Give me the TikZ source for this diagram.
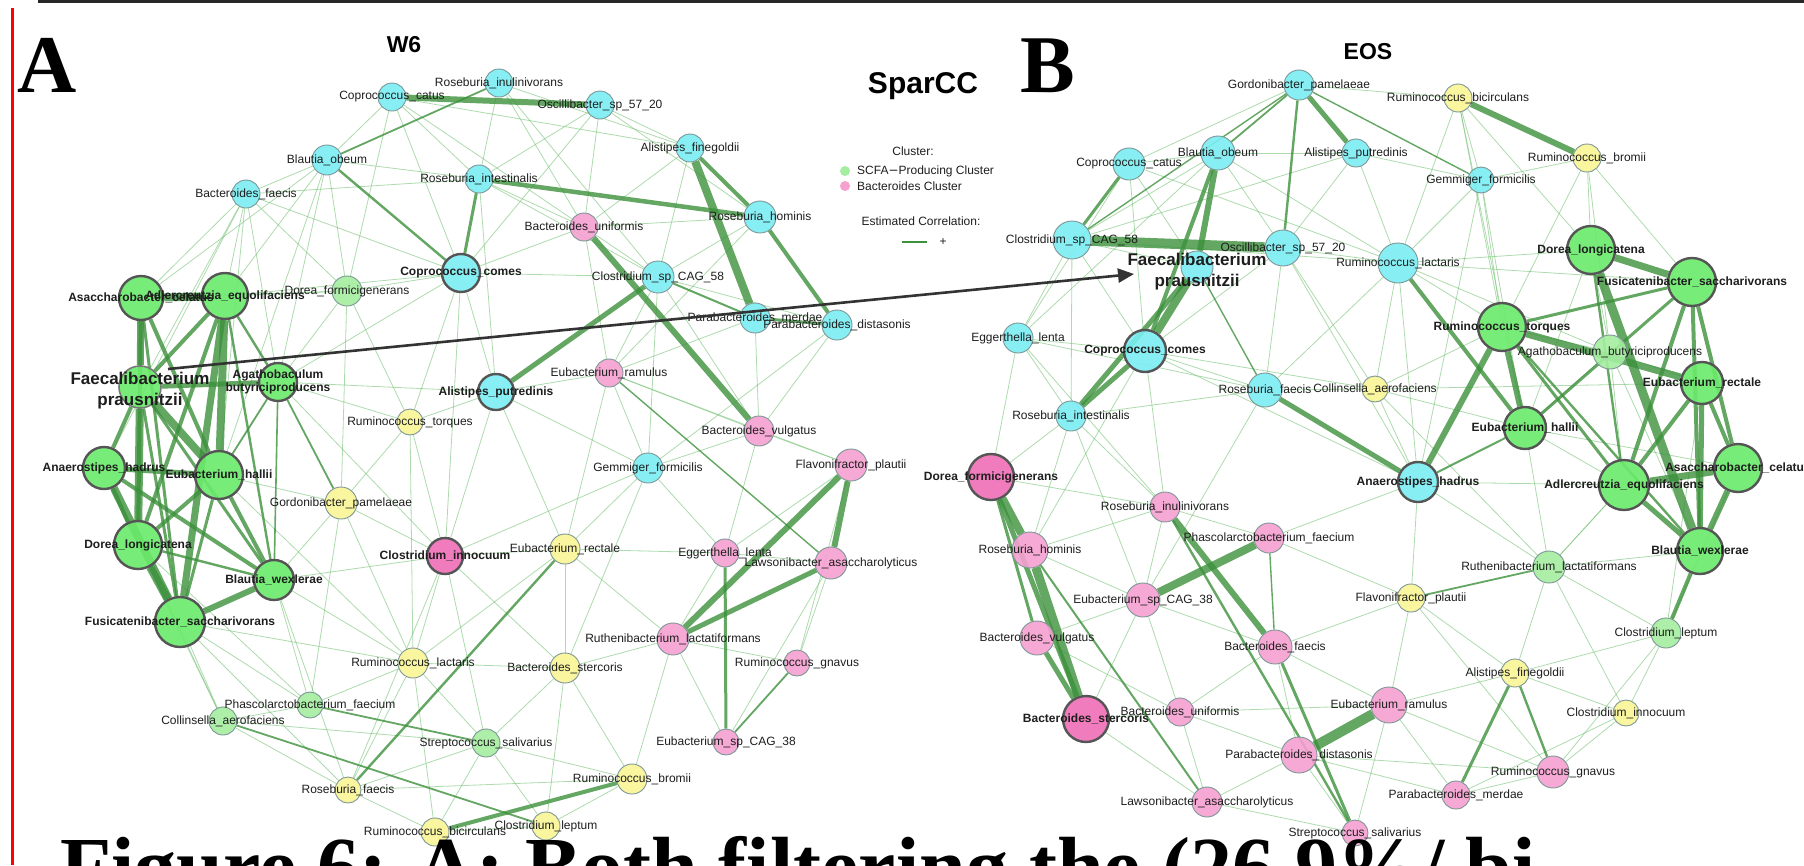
\documentclass[tikz,border=0pt]{standalone}
\usepackage{fontspec}
\setmainfont{Liberation Sans}
\newfontfamily\timesb{Liberation Serif}
\usetikzlibrary{arrows.meta}
\pgfdeclarelayer{bg}\pgfdeclarelayer{edges}\pgfdeclarelayer{fg}
\pgfsetlayers{bg,edges,main,fg}
\definecolor{cyanF}{RGB}{122,238,243}
\definecolor{pinkF}{RGB}{246,160,208}
\definecolor{hotF}{RGB}{240,110,182}
\definecolor{yelF}{RGB}{250,246,150}
\definecolor{grnF}{RGB}{106,234,106}
\definecolor{lgrF}{RGB}{165,238,160}
\definecolor{bordL}{RGB}{125,150,150}
\definecolor{bordH}{RGB}{85,85,85}
\definecolor{edL}{RGB}{120,195,120}
\definecolor{edD}{RGB}{60,145,60}
\definecolor{txt}{RGB}{30,30,30}
\tikzset{
  nd/.style={circle, inner sep=0pt, draw=bordL, line width=0.9pt, fill opacity=0.9},
  cy/.style={nd, fill=cyanF}, pk/.style={nd, fill=pinkF}, hp/.style={nd, fill=hotF},
  ye/.style={nd, fill=yelF}, gr/.style={nd, fill=grnF}, lg/.style={nd, fill=lgrF},
  hub/.style={draw=bordH, line width=2.4pt},
  lbl/.style={inner sep=0pt, text=txt, font=\fontsize{12}{14}\selectfont, align=center},
  eth/.style={draw=edL, line width=0.8pt, opacity=0.6},
  ethk/.style={draw=edD, opacity=0.8},
  ttl/.style={font=\bfseries\fontsize{23}{23}\selectfont, inner sep=0pt},
  big/.style={font=\timesb\bfseries\fontsize{82}{82}\selectfont, inner sep=0pt, anchor=base west}
}
\newcommand{\mk}[5]{\node[#1,minimum size=#4pt] (#2) at (#3) {};\begin{pgfonlayer}{fg}\node[lbl] (#2t) at (#2.center) {#5};\end{pgfonlayer}}
\begin{document}
\begin{tikzpicture}[x=1pt,y=-1pt]
\useasboundingbox (0,0) rectangle (1804,865);
\clip (0,0) rectangle (1804,865);
\begin{pgfonlayer}{bg}
\fill[white] (0,0) rectangle (1804,865);
\end{pgfonlayer}
% frame lines
\draw[line width=3pt, black!85] (38,1.5) -- (1804,1.5);
\draw[line width=3pt, red] (12,8) -- (12,865);
% letters and titles
\node[big] (letA) at (17,92) {A};
\node[big] (letB) at (1020,92) {B};
\node[ttl] (tW6) at (404,45) {W6};
\node[ttl] (tEOS) at (1368,52) {EOS};
\node[font=\bfseries\fontsize{30}{30}\selectfont, inner sep=0pt] (tSp) at (923,86) {SparCC};
% legend
\node[lbl] (lgC) at (913,151) {Cluster:};
\node[circle, fill=lgrF, minimum size=10pt, inner sep=0pt] (lgD1) at (845,171) {};
\node[circle, fill=pinkF, minimum size=10pt, inner sep=0pt] (lgD2) at (845,186) {};
\node[lbl, anchor=west] (lgT1) at (857,171) {SCFA{\fontspec{DejaVu Sans}−}Producing Cluster};
\node[lbl, anchor=west] (lgT2) at (857,186) {Bacteroides Cluster};
\node[lbl] (lgE) at (921,221) {Estimated Correlation:};
\coordinate (lgL1) at (902,242); \coordinate (lgL2) at (927,242);
\draw[edD, line width=1.5pt] (lgL1) -- (lgL2);
\node[lbl] (lgP) at (943,242) {+};

% ===== Panel A : W6 =====
\mk{cy}{aCcat}{392,97}{28}{Coprococcus\_catus}
\mk{cy}{aRinu}{499,83}{28}{Roseburia\_inulinivorans}
\mk{cy}{aOsc}{600,105}{28}{Oscillibacter\_sp\_57\_20}
\mk{cy}{aBob}{327,160}{30}{Blautia\_obeum}
\mk{cy}{aBfae}{246,194}{28}{Bacteroides\_faecis}
\mk{cy}{aRint}{479,179}{28}{Roseburia\_intestinalis}
\mk{cy}{aAfin}{690,148}{28}{Alistipes\_finegoldii}
\mk{cy}{aRhom}{760,217}{32}{Roseburia\_hominis}
\mk{pk}{aBuni}{584,227}{28}{Bacteroides\_uniformis}
\mk{cy,hub}{aCcom}{461,273}{38}{\bfseries Coprococcus\_comes}
\mk{cy}{aCsp}{658,277}{32}{Clostridium\_sp\_CAG\_58}
\mk{lg}{aDfor}{347,291}{30}{Dorea\_formicigenerans}
\mk{cy}{aPmer}{755,318}{30}{Parabacteroides\_merdae}
\mk{cy}{aPdis}{837,325}{30}{Parabacteroides\_distasonis}
\mk{pk}{aEram}{609,373}{28}{Eubacterium\_ramulus}
\mk{cy,hub}{aApu}{496,392}{36}{\bfseries Alistipes\_putredinis}
\mk{ye}{aRtor}{410,422}{26}{Ruminococcus\_torques}
\mk{pk}{aBvul}{759,431}{30}{Bacteroides\_vulgatus}
\mk{cy}{aGem}{648,468}{30}{Gemmiger\_formicilis}
\mk{pk}{aFlav}{851,465}{32}{Flavonifractor\_plautii}
\mk{ye}{aGpam}{341,503}{32}{Gordonibacter\_pamelaeae}
\mk{hp,hub}{aCinn}{445,556}{36}{\bfseries Clostridium\_innocuum}
\mk{ye}{aErec}{565,549}{30}{Eubacterium\_rectale}
\mk{pk}{aElen}{725,553}{28}{Eggerthella\_lenta}
\mk{pk}{aLaw}{831,563}{32}{Lawsonibacter\_asaccharolyticus}
\mk{pk}{aRuth}{673,639}{32}{Ruthenibacterium\_lactatiformans}
\mk{ye}{aRlac}{413,663}{30}{Ruminococcus\_lactaris}
\mk{ye}{aBste}{565,668}{30}{Bacteroides\_stercoris}
\mk{pk}{aRgna}{797,663}{26}{Ruminococcus\_gnavus}
\mk{lg}{aPhas}{310,705}{26}{Phascolarctobacterium\_faecium}
\mk{lg}{aColl}{223,721}{28}{Collinsella\_aerofaciens}
\mk{lg}{aStrep}{486,743}{28}{Streptococcus\_salivarius}
\mk{pk}{aEsp}{726,742}{26}{Eubacterium\_sp\_CAG\_38}
\mk{ye}{aRbro}{632,779}{30}{Ruminococcus\_bromii}
\mk{ye}{aRfae}{348,790}{26}{Roseburia\_faecis}
\mk{ye}{aRbic}{435,832}{28}{Ruminococcus\_bicirculans}
\mk{ye}{aClep}{546,826}{28}{Clostridium\_leptum}
% green hub cluster
\mk{gr,hub}{aAsac}{141,298}{44}{\bfseries Asaccharobacter\_celatus}
\mk{gr,hub}{aAdl}{225,296}{46}{\bfseries Adlercreutzia\_equolifaciens}
\node[gr, draw=bordH!80, line width=1.6pt, minimum size=42pt] (aFp) at (140,387) {};
\mk{gr,hub}{aAgb}{278,382}{38}{\bfseries Agathobaculum\\[-1pt]\bfseries butyriciproducens}
\mk{gr,hub}{aAhad}{104,468}{42}{\bfseries Anaerostipes\_hadrus}
\mk{gr,hub}{aEhal}{219,475}{48}{\bfseries Eubacterium\_hallii}
\mk{gr,hub}{aDlon}{138,545}{48}{\bfseries Dorea\_longicatena}
\mk{gr,hub}{aBwex}{274,580}{40}{\bfseries Blautia\_wexlerae}
\mk{gr,hub}{aFus}{180,622}{50}{\bfseries Fusicatenibacter\_saccharivorans}
\begin{pgfonlayer}{fg}
\node[lbl, font=\bfseries\fontsize{17}{21}\selectfont] (aFpt) at ([yshift=-4pt]aFp.center) {Faecalibacterium\\prausnitzii};
\end{pgfonlayer}

% ===== Panel B : EOS =====
\mk{cy}{bGpam}{1299,85}{30}{Gordonibacter\_pamelaeae}
\mk{ye}{bRbic}{1458,98}{28}{Ruminococcus\_bicirculans}
\mk{cy}{bBob}{1218,153}{34}{Blautia\_obeum}
\mk{cy}{bApu}{1356,153}{28}{Alistipes\_putredinis}
\mk{cy}{bCcat}{1129,164}{32}{Coprococcus\_catus}
\mk{ye}{bRbro}{1587,158}{28}{Ruminococcus\_bromii}
\mk{cy}{bGem}{1481,180}{26}{Gemmiger\_formicilis}
\mk{cy}{bCsp}{1072,240}{38}{Clostridium\_sp\_CAG\_58}
\mk{cy}{bOsc}{1283,248}{36}{Oscillibacter\_sp\_57\_20}
\mk{cy}{bRlac}{1398,263}{40}{Ruminococcus\_lactaris}
\node[cy, minimum size=32pt] (bFp) at (1197,267) {};
\mk{cy}{bEgg}{1018,338}{30}{Eggerthella\_lenta}
\mk{cy,hub}{bCcom}{1145,351}{42}{\bfseries Coprococcus\_comes}
\mk{lg}{bAgb}{1610,352}{34}{Agathobaculum\_butyriciproducens}
\mk{cy}{bRfae}{1265,390}{34}{Roseburia\_faecis}
\mk{ye}{bColl}{1375,389}{26}{Collinsella\_aerofaciens}
\mk{cy}{bRint}{1071,416}{30}{Roseburia\_intestinalis}
\mk{hp,hub}{bDfor}{991,477}{46}{\bfseries Dorea\_formicigenerans}
\mk{cy,hub}{bAhad}{1418,482}{40}{\bfseries Anaerostipes\_hadrus}
\mk{pk}{bRinu}{1165,507}{30}{Roseburia\_inulinivorans}
\mk{pk}{bPhas}{1269,538}{30}{Phascolarctobacterium\_faecium}
\mk{pk}{bRhom}{1030,550}{36}{Roseburia\_hominis}
\mk{lg}{bRuth}{1549,567}{32}{Ruthenibacterium\_lactatiformans}
\mk{ye}{bFlav}{1411,598}{28}{Flavonifractor\_plautii}
\mk{pk}{bEsp}{1143,600}{34}{Eubacterium\_sp\_CAG\_38}
\mk{lg}{bClep}{1666,633}{30}{Clostridium\_leptum}
\mk{pk}{bBvul}{1037,638}{34}{Bacteroides\_vulgatus}
\mk{pk}{bBfae}{1275,647}{34}{Bacteroides\_faecis}
\mk{ye}{bAfin}{1515,673}{28}{Alistipes\_finegoldii}
\mk{pk}{bEram}{1389,705}{36}{Eubacterium\_ramulus}
\mk{pk}{bBuni}{1180,712}{28}{Bacteroides\_uniformis}
\mk{ye}{bCinn}{1626,713}{26}{Clostridium\_innocuum}
\mk{hp,hub}{bBste}{1086,719}{46}{\bfseries Bacteroides\_stercoris}
\mk{pk}{bPdis}{1299,755}{36}{Parabacteroides\_distasonis}
\mk{pk}{bRgna}{1553,772}{32}{Ruminococcus\_gnavus}
\mk{pk}{bPmer}{1456,795}{28}{Parabacteroides\_merdae}
\mk{pk}{bLaw}{1207,802}{30}{Lawsonibacter\_asaccharolyticus}
\mk{pk}{bStrep}{1355,833}{26}{Streptococcus\_salivarius}
\mk{gr,hub}{bDlon}{1591,250}{48}{\bfseries Dorea\_longicatena}
\mk{gr,hub}{bFus}{1692,282}{48}{\bfseries Fusicatenibacter\_saccharivorans}
\mk{gr,hub}{bRtor}{1502,327}{48}{\bfseries Ruminococcus\_torques}
\mk{gr,hub}{bEre}{1702,383}{42}{\bfseries Eubacterium\_rectale}
\mk{gr,hub}{bEhal}{1525,428}{42}{\bfseries Eubacterium\_hallii}
\mk{gr,hub}{bAsac}{1738,468}{48}{\bfseries Asaccharobacter\_celatus}
\mk{gr,hub}{bAdl}{1624,485}{50}{\bfseries Adlercreutzia\_equolifaciens}
\mk{gr,hub}{bBwex}{1700,551}{46}{\bfseries Blautia\_wexlerae}
\begin{pgfonlayer}{fg}
\node[lbl, font=\bfseries\fontsize{17}{21}\selectfont] (bFpt) at ([yshift=-5pt]bFp.center) {Faecalibacterium\\prausnitzii};
\end{pgfonlayer}

% ===== edges =====
\begin{pgfonlayer}{edges}
\foreach \p/\q in {aBfae/aBob,aBfae/aAsac,aBfae/aAdl,aBfae/aDfor,aBfae/aCcom,aBfae/aFp,aBfae/aAgb,aBfae/aRint,aBfae/aEhal,aBob/aCcat,aBob/aAdl,aBob/aAsac,aBob/aDfor,aBob/aAgb,aBob/aRint,aBob/aEhal,aCcat/aRint,aCcat/aBuni,aCcat/aCcom,aCcat/aDfor,aCcat/aAfin,aRinu/aRint,aRinu/aAfin,aRinu/aBuni,aRinu/aCsp,aOsc/aAfin,aOsc/aRhom,aOsc/aRint,aOsc/aBuni,aOsc/aCcom,aAfin/aBuni,aAfin/aCsp,aRhom/aBuni,aRhom/aCsp,aRhom/aEram,aRint/aBuni,aRint/aCsp,aRint/aApu,aBuni/aCsp,aBuni/aCcom,aBuni/aEram,aCcom/aDfor,aCcom/aApu,aCcom/aAgb,aCcom/aRtor,aCcom/aCsp,aCcom/aCinn,aDfor/aAgb,aDfor/aAdl,aDfor/aRtor,aDfor/aGpam,aCsp/aPdis,aCsp/aEram,aCsp/aGem,aCsp/aBvul,aPdis/aBvul,aPdis/aGem,aPmer/aEram,aPmer/aBvul,aApu/aEram,aApu/aRtor,aApu/aGem,aApu/aCinn,aApu/aErec,aEram/aBvul,aEram/aGem,aEram/aErec,aEram/aFlav,aBvul/aFlav,aBvul/aGem,aBvul/aElen,aGem/aErec,aGem/aElen,aGem/aBste,aGem/aCinn,aFlav/aElen,aFlav/aRgna,aElen/aRuth,aElen/aLaw,aElen/aErec,aLaw/aRgna,aLaw/aEsp,aRuth/aBste,aRuth/aRgna,aRuth/aEsp,aRuth/aRbro,aRuth/aErec,aRtor/aGpam,aRtor/aCinn,aRtor/aRlac,aRtor/aAgb,aGpam/aCinn,aGpam/aEhal,aGpam/aBwex,aGpam/aRlac,aGpam/aPhas,aCinn/aErec,aCinn/aRlac,aCinn/aBwex,aCinn/aStrep,aCinn/aBste,aCinn/aRfae,aErec/aBste,aErec/aRlac,aBste/aStrep,aBste/aRbro,aBste/aClep,aBste/aRlac,aRlac/aPhas,aRlac/aRfae,aRlac/aRbic,aRlac/aStrep,aRlac/aBwex,aPhas/aColl,aPhas/aFus,aPhas/aBwex,aColl/aFus,aColl/aDlon,aColl/aStrep,aStrep/aRbic,aStrep/aClep,aStrep/aRfae,aRfae/aRbic,aRfae/aColl,aRbic/aClep,aRbro/aClep,aRbro/aStrep,aRbro/aRfae,aFus/aRfae,aAgb/aApu,aAhad/aColl,aAsac/aDfor,aAdl/aCcom,aAgb/aCinn,aEhal/aRlac,aBwex/aRfae,aFus/aRlac,aDlon/aPhas,aAhad/aBfae}
  \draw[eth] (\p) -- (\q);
\foreach \p/\q/\w in {aCcat/aOsc/6,aRinu/aBob/1.8,aBob/aCcom/2.4,aRint/aCcom/3,aRint/aRhom/4.5,aAfin/aPmer/8,aAfin/aRhom/4,aRhom/aPdis/4,aBuni/aBvul/6,aApu/aCsp/5,aCsp/aPmer/2,aPmer/aPdis/3,aFlav/aLaw/6,aFlav/aRuth/6,aLaw/aRuth/5,aElen/aEsp/3,aRgna/aEsp/1.8,aEram/aLaw/1.4,aErec/aRfae/2.4,aRbic/aRbro/4,aColl/aClep/1.8,aPhas/aStrep/1.8,aAgb/aGpam/1.8,
 aAsac/aAdl/8,aAsac/aFp/7,aAsac/aDlon/4,aAsac/aEhal/4,aAsac/aFus/3,aAdl/aFp/4,aAdl/aEhal/8,aAdl/aFus/7,aAdl/aDlon/4,aAdl/aAgb/2.4,aAdl/aBwex/2.4,aFp/aDlon/8,aFp/aEhal/8,aFp/aAhad/4,aFp/aAgb/5,aFp/aBwex/3,aFp/aFus/3,aAhad/aDlon/4,aAhad/aEhal/5,aAhad/aFus/8,aAhad/aBwex/4,aEhal/aDlon/4,aEhal/aFus/3,aEhal/aBwex/4,aEhal/aAgb/1.8,aDlon/aFus/8,aDlon/aBwex/2.4,aFus/aBwex/6,aAgb/aBwex/1.6}
  \draw[ethk, line width=\w pt] (\p) -- (\q);
% EOS
\foreach \p/\q in {bGpam/bRbic,bGpam/bCcat,bBob/bCcat,bBob/bApu,bBob/bCsp,bBob/bOsc,bBob/bRlac,bBob/bEgg,bApu/bOsc,bApu/bRlac,bApu/bGem,bApu/bCsp,bCcat/bFp,bCcat/bCcom,bCcat/bEgg,bCcat/bRlac,bRbic/bGem,bRbic/bRlac,bRbic/bRtor,bRbic/bDlon,bRbic/bEhal,bRbro/bGem,bRbro/bDlon,bRbro/bRtor,bRbro/bFus,bRbro/bAgb,bGem/bRlac,bGem/bRtor,bGem/bEhal,bGem/bAhad,bCsp/bEgg,bCsp/bCcom,bCsp/bRint,bCsp/bRlac,bCsp/bFp,bOsc/bRlac,bOsc/bCcom,bOsc/bRfae,bOsc/bColl,bRlac/bDlon,bRlac/bFus,bRlac/bRfae,bRlac/bColl,bRlac/bAhad,bRlac/bAgb,bRlac/bRtor,bEgg/bCcom,bEgg/bRint,bEgg/bRfae,bEgg/bDfor,bCcom/bRfae,bCcom/bColl,bCcom/bRhom,bCcom/bAhad,bRfae/bColl,bRfae/bRint,bRfae/bEsp,bColl/bAhad,bColl/bRtor,bColl/bEhal,bColl/bEre,bColl/bRuth,bRint/bDfor,bRint/bRhom,bRint/bRinu,bRint/bEsp,bAhad/bRuth,bAhad/bAdl,bAhad/bFlav,bAhad/bPhas,bEhal/bAgb,bEhal/bAdl,bEhal/bRuth,bEhal/bAsac,bAgb/bEre,bAgb/bBwex,bAgb/bAdl,bAgb/bDlon,bRuth/bBwex,bRuth/bClep,bRuth/bAfin,bRuth/bCinn,bRuth/bAdl,bFlav/bAfin,bFlav/bEram,bFlav/bBfae,bFlav/bRgna,bClep/bAfin,bClep/bCinn,bClep/bRgna,bAfin/bEram,bAfin/bCinn,bEram/bBfae,bEram/bRgna,bEram/bPmer,bEram/bBuni,bEram/bStrep,bCinn/bRgna,bCinn/bPmer,bRgna/bPmer,bRgna/bPdis,bPmer/bPdis,bPdis/bLaw,bPdis/bStrep,bPdis/bBuni,bPdis/bBfae,bLaw/bBuni,bLaw/bBste,bLaw/bStrep,bBuni/bBste,bBuni/bBfae,bBuni/bEsp,bBste/bEsp,bBvul/bEsp,bBvul/bBuni,bRhom/bEsp,bRhom/bRinu,bDfor/bRinu,bRinu/bPhas,bRinu/bEsp,bPhas/bFlav,bEsp/bBfae,bEgg/bRinu,bCcom/bRinu,bDlon/bEhal,bRtor/bAgb,bEre/bClep,bAsac/bClep,bAdl/bRuth,bOsc/bAhad}
  \draw[eth] (\p) -- (\q);
\foreach \p/\q/\w in {bGpam/bBob/1.8,bGpam/bOsc/2.4,bGpam/bApu/5,bGpam/bGem/1.4,bGpam/bCsp/1.4,bRbic/bRbro/6,bCcat/bCsp/3,bBob/bFp/6,bFp/bCcom/8,bBob/bCcom/4,bFp/bRint/5,bCcom/bRint/5,bCsp/bOsc/10,bFp/bRfae/1.4,bRlac/bEhal/4,bRfae/bAhad/5,bAhad/bRtor/6,bAhad/bEhal/2,bRtor/bEhal/6,bRtor/bEre/7,bRtor/bFus/3,bRtor/bAdl/3,bRtor/bBwex/2.4,bDlon/bFus/7,bDlon/bBwex/9,bDlon/bAdl/2.4,bFus/bEhal/3,bFus/bAdl/4,bFus/bBwex/4,bFus/bAsac/4,bEre/bAdl/4,bEre/bAsac/4,bEre/bBwex/5,bAdl/bAsac/7,bAdl/bBwex/5,bAsac/bBwex/6,bBwex/bClep/4,bRuth/bFlav/1.8,bDfor/bRhom/8,bRhom/bBste/9,bDfor/bBste/5,bBvul/bBste/5,bDfor/bBvul/3,bRinu/bBfae/6,bPhas/bEsp/8,bRinu/bStrep/2.4,bPhas/bBfae/1.4,bBfae/bStrep/3,bEram/bPdis/10,bAfin/bPmer/3,bAfin/bRgna/2.4,bRhom/bLaw/2}
  \draw[ethk, line width=\w pt] (\p) -- (\q);
\end{pgfonlayer}

% arrow between the two F. prausnitzii
\coordinate (arS) at (168,369);
\coordinate (arE) at (1134,274);
\begin{pgfonlayer}{fg}
\draw[line width=2.6pt, black!80, -{Triangle[length=16pt,width=14pt]}] (arS) -- (arE);
\end{pgfonlayer}

% caption (cut at the bottom of the page)
\node[big, font=\timesb\bfseries\fontsize{84}{84}\selectfont] (cap) at (60,895) {Figure 6: A: Both filtering the (26.9\%/ bi};
\end{tikzpicture}
\end{document}
